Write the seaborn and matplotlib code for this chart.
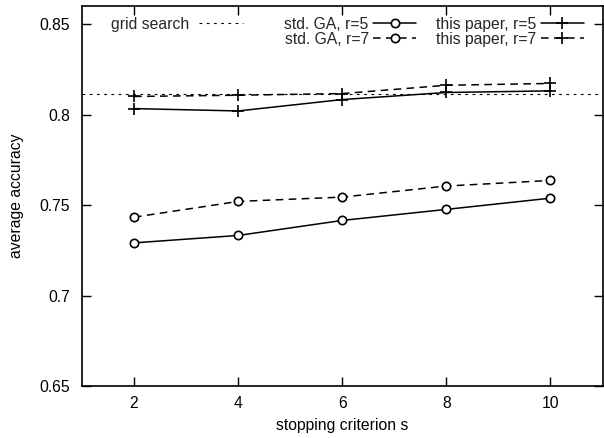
import matplotlib
matplotlib.use("Agg")
import matplotlib.pyplot as plt
import seaborn as sns
import pandas as pd

# ---- data ----
s_values = [2, 4, 6, 8, 10]
std_ga_r5 = [0.7291, 0.7332, 0.7415, 0.7476, 0.7538]
std_ga_r7 = [0.7433, 0.7520, 0.7544, 0.7605, 0.7636]
this_paper_r5 = [0.8033, 0.8020, 0.8083, 0.8122, 0.8131]
this_paper_r7 = [0.8100, 0.8107, 0.8116, 0.8162, 0.8172]
grid_search_acc = 0.8112

x_ticks = [2, 4, 6, 8, 10]
y_ticks = [0.65, 0.70, 0.75, 0.80, 0.85]
y_tick_labels = ["0.65", "0.7", "0.75", "0.8", "0.85"]

series_names = ["std. GA, r=5", "std. GA, r=7", "this paper, r=5", "this paper, r=7"]
series_values = [std_ga_r5, std_ga_r7, this_paper_r5, this_paper_r7]

sns.set_style("ticks")
plt.rcParams['font.family'] = ['Liberation Sans', 'DejaVu Sans']
FS = 11.3
plt.rcParams['font.size'] = FS

fig = plt.figure(figsize=(6.04, 4.38), dpi=100)
ax = fig.add_axes([82 / 604, 52 / 438, (602.5 - 82) / 604, (386 - 6) / 438])

dash = (0, (5, 3.5))
styles = {
    "std. GA, r=5": dict(marker="o", linestyle="-", markersize=6, mfc="white", mec="black", mew=1.2),
    "std. GA, r=7": dict(marker="o", linestyle=dash, markersize=6, mfc="white", mec="black", mew=1.2),
    "this paper, r=5": dict(marker="+", linestyle="-", markersize=8, mec="black", mew=1.2),
    "this paper, r=7": dict(marker="+", linestyle=dash, markersize=8, mec="black", mew=1.2),
}

ax.axhline(grid_search_acc, color="black", lw=0.8, linestyle=(0, (2.5, 4)), label="grid search")
grid_handle = ax.lines[-1]

handles = {}
for name, vals in zip(series_names, series_values):
    df = pd.DataFrame({"s": s_values, "acc": vals})
    sns.lineplot(data=df, x="s", y="acc", ax=ax, color="black", lw=1.1,
                 legend=False, label=name, **styles[name])
    handles[name] = ax.lines[-1]

ax.set_xlim(1, 11)
ax.set_ylim(0.65, 0.86)
ax.set_xticks(x_ticks)
ax.set_xticklabels([str(v) for v in x_ticks])
ax.set_yticks(y_ticks)
ax.set_yticklabels(y_tick_labels)
ax.tick_params(direction="in", length=6.5, width=1, top=True, right=True,
               labelsize=FS, color="black", labelcolor="black")
ax.tick_params(axis="y", pad=8.5)
ax.tick_params(axis="x", pad=7)
for sp in ax.spines.values():
    sp.set_visible(True)
    sp.set_linewidth(1.2)
    sp.set_color("black")

ax.set_xlabel("stopping criterion s", fontsize=FS, color="black", labelpad=5)
ax.set_ylabel("average accuracy", fontsize=FS, color="black", labelpad=11)

leg1 = ax.legend([grid_handle], ["grid search"], loc="upper left",
                 bbox_to_anchor=(18 / 520.5, 1.0), frameon=False, markerfirst=False,
                 handlelength=2.8, handletextpad=0.6, borderaxespad=0.3, fontsize=FS)
ax.add_artist(leg1)
ax.legend([handles[n] for n in series_names], series_names, ncol=2, loc="upper right",
          bbox_to_anchor=(1 - 8 / 520.5, 1.0), frameon=False, markerfirst=False,
          handlelength=2.7, handletextpad=0.3, columnspacing=1.3,
          labelspacing=0.0, borderaxespad=0.3, fontsize=FS)

fig.savefig("out.png", dpi=100)
